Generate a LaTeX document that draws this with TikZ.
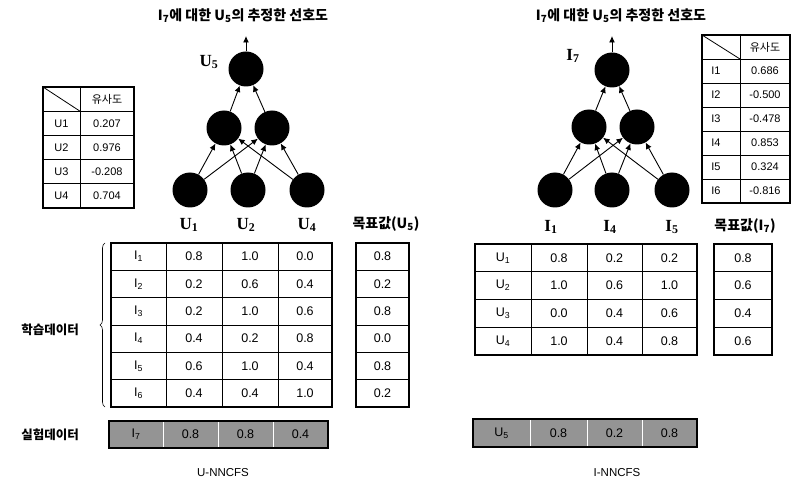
\documentclass[tikz,border=0pt]{standalone}
\usepackage{fontspec}
\setmainfont{Liberation Sans}
\newfontfamily\kr{Noto Sans CJK KR}
\newfontfamily\lblserif{Liberation Serif}
\usetikzlibrary{arrows.meta,decorations.pathreplacing}

\tikzset{
  neuron/.style={circle,fill=black,minimum size=35pt,inner sep=0pt},
  link/.style={-{Latex[length=6.5pt,width=6pt]},line width=0.9pt},
  outer/.style={line width=2.2pt},
  inner/.style={line width=0.8pt},
  title/.style={font=\kr\bfseries\fontsize{14}{16}\selectfont},
  side/.style={font=\kr\bfseries\fontsize{12.5}{14}\selectfont},
  netlabel/.style={font=\lblserif\bfseries\fontsize{17}{18}\selectfont},
  target/.style={font=\kr\bfseries\fontsize{14}{16}\selectfont},
  simtext/.style={font=\fontsize{11}{12}\selectfont,inner sep=0pt},
  celltext/.style={font=\fontsize{12.5}{13}\selectfont,inner sep=0pt},
  shade/.style={fill=black!42,draw=white,line width=1pt},
  caption/.style={font=\fontsize{11.5}{12}\selectfont},
}
\newcommand\subs[1]{\textsubscript{#1}}

\begin{document}
\begin{tikzpicture}[x=1pt,y=-1pt]
\useasboundingbox (0,0) rectangle (798,489);

% ---------- titles ----------
\node[title] (ltitle) at (243,16) {I\subs{7}에 대한 U\subs{5}의 추정한 선호도};
\node[title] (rtitle) at (621,16) {I\subs{7}에 대한 U\subs{5}의 추정한 선호도};

% ---------- left network ----------
\node[neuron] (lt)  at (246,69) {};
\node[neuron] (lm1) at (224,128) {};
\node[neuron] (lm2) at (272,128) {};
\node[neuron] (lb1) at (190,190) {};
\node[neuron] (lb2) at (248,190) {};
\node[neuron] (lb3) at (307,190) {};
\coordinate (lout) at (246,36);
\draw[link] (lt) -- (lout);
\foreach \m in {lm1,lm2} {
  \draw[link] (\m) -- (lt);
  \foreach \b in {lb1,lb2,lb3} \draw[link] (\b) -- (\m);
}
\node[netlabel] (lU5) at (209,62) {U\subs{5}};
\node[netlabel] (lU1) at (189,225) {U\subs{1}};
\node[netlabel] (lU2) at (246,225) {U\subs{2}};
\node[netlabel] (lU4) at (307,225) {U\subs{4}};
\node[target] (ltarget) at (386,224) {목표값(U\subs{5})};

% ---------- right network ----------
\node[neuron] (rt)  at (612,70) {};
\node[neuron] (rm1) at (589,127) {};
\node[neuron] (rm2) at (637,127) {};
\node[neuron] (rb1) at (555,190) {};
\node[neuron] (rb2) at (612,190) {};
\node[neuron] (rb3) at (672,190) {};
\coordinate (rout) at (612,36);
\draw[link] (rt) -- (rout);
\foreach \m in {rm1,rm2} {
  \draw[link] (\m) -- (rt);
  \foreach \b in {rb1,rb2,rb3} \draw[link] (\b) -- (\m);
}
\node[netlabel] (rI7) at (573,56) {I\subs{7}};
\node[netlabel] (rI1) at (551,227) {I\subs{1}};
\node[netlabel] (rI4) at (610,227) {I\subs{4}};
\node[netlabel] (rI5) at (672,227) {I\subs{5}};
\node[target] (rtarget) at (745,226) {목표값(I\subs{7})};

% ---------- left similarity table ----------
\foreach \i in {1,...,4} \draw[inner] (43,{87+24.2*\i}) -- (134,{87+24.2*\i});
\draw[inner] (80,87) -- (80,208);
\draw[inner] (43,87) -- (80,111.2);
\draw[outer] (43,87) rectangle (134,208);
\node[simtext,font=\kr\fontsize{11}{12}\selectfont] (lsh) at (107,99) {유사도};
\foreach \lab/\val [count=\i] in {U1/0.207,U2/0.976,U3/-0.208,U4/0.704} {
  \node[simtext] (lsr\i) at (61.5,{87+24.2*\i+12.1}) {\lab};
  \node[simtext] (lsv\i) at (107,{87+24.2*\i+12.1}) {\val};
}

% ---------- right similarity table ----------
\foreach \i in {1,...,6} \draw[inner] (702,{35+24*\i}) -- (790,{35+24*\i});
\draw[inner] (740,35) -- (740,203);
\draw[inner] (702,35) -- (740,59);
\draw[outer] (702,35) rectangle (790,203);
\node[simtext,font=\kr\fontsize{11}{12}\selectfont] (rsh) at (765,47) {유사도};
\foreach \lab/\val [count=\i] in {I1/0.686,I2/-0.500,I3/-0.478,I4/0.853,I5/0.324,I6/-0.816} {
  \node[simtext] (rsr\i) at (716,{35+24*\i+12}) {\lab};
  \node[simtext] (rsv\i) at (765,{35+24*\i+12}) {\val};
}

% ---------- left training data ----------
\foreach \i in {1,...,5} {
  \draw[inner] (111,{243+27.33*\i}) -- (332,{243+27.33*\i});
  \draw[inner] (356,{243+27.33*\i}) -- (409,{243+27.33*\i});
}
\foreach \x in {166,222,278} \draw[inner] (\x,243) -- (\x,407);
\draw[outer] (111,243) rectangle (332,407);
\draw[outer] (356,243) rectangle (409,407);
\foreach \va/\vb/\vd/\vt [count=\r] in
  {0.8/1.0/0.0/0.8, 0.2/0.6/0.4/0.2, 0.2/1.0/0.6/0.8,
   0.4/0.2/0.8/0.0, 0.6/1.0/0.4/0.8, 0.4/0.4/1.0/0.2} {
  \node[celltext] (L\r-0) at (138.5,{243+27.33*\r-13.7}) {I\subs{\r}};
  \node[celltext] (L\r-1) at (194,{243+27.33*\r-13.7}) {\va};
  \node[celltext] (L\r-2) at (250,{243+27.33*\r-13.7}) {\vb};
  \node[celltext] (L\r-3) at (305,{243+27.33*\r-13.7}) {\vd};
  \node[celltext] (L\r-t) at (382.5,{243+27.33*\r-13.7}) {\vt};
}
\draw[decorate,decoration={brace,amplitude=5pt},line width=0.6pt] (105,407) -- (105,243);
\node[side] (train) at (50,330) {학습데이터};

% ---------- right training data ----------
\foreach \i in {1,...,3} {
  \draw[inner] (475,{244+27.75*\i}) -- (697,{244+27.75*\i});
  \draw[inner] (714,{244+27.75*\i}) -- (772,{244+27.75*\i});
}
\foreach \x in {531,587,642} \draw[inner] (\x,244) -- (\x,355);
\draw[outer] (475,244) rectangle (697,355);
\draw[outer] (714,244) rectangle (772,355);
\foreach \va/\vb/\vd/\vt [count=\r] in
  {0.8/0.2/0.2/0.8, 1.0/0.6/1.0/0.6, 0.0/0.4/0.6/0.4, 1.0/0.4/0.8/0.6} {
  \node[celltext] (R\r-0) at (503,{244+27.75*\r-13.9}) {U\subs{\r}};
  \node[celltext] (R\r-1) at (559,{244+27.75*\r-13.9}) {\va};
  \node[celltext] (R\r-2) at (614.5,{244+27.75*\r-13.9}) {\vb};
  \node[celltext] (R\r-3) at (669.5,{244+27.75*\r-13.9}) {\vd};
  \node[celltext] (R\r-t) at (743,{244+27.75*\r-13.9}) {\vt};
}

% ---------- test data rows ----------
\foreach \xa/\xb in {109/163,163/218,218/273,273/328} \fill[shade] (\xa,421) rectangle (\xb,448);
\draw[outer] (109,421) rectangle (328,448);
\node[celltext] (lx0) at (136,434.5) {I\subs{7}};
\node[celltext] (lx1) at (190.5,434.5) {0.8};
\node[celltext] (lx2) at (245.5,434.5) {0.8};
\node[celltext] (lx3) at (300.5,434.5) {0.4};
\node[side] (test) at (50,435) {실험데이터};

\foreach \xa/\xb in {473/530,530/587,587/642,642/697} \fill[shade] (\xa,419) rectangle (\xb,447);
\draw[outer] (473,419) rectangle (697,447);
\node[celltext] (rx0) at (501.5,433) {U\subs{5}};
\node[celltext] (rx1) at (558.5,433) {0.8};
\node[celltext] (rx2) at (614.5,433) {0.2};
\node[celltext] (rx3) at (669.5,433) {0.8};

% ---------- captions ----------
\node[caption] (lcap) at (223,473) {U-NNCFS};
\node[caption] (rcap) at (617,473) {I-NNCFS};
\end{tikzpicture}
\end{document}
